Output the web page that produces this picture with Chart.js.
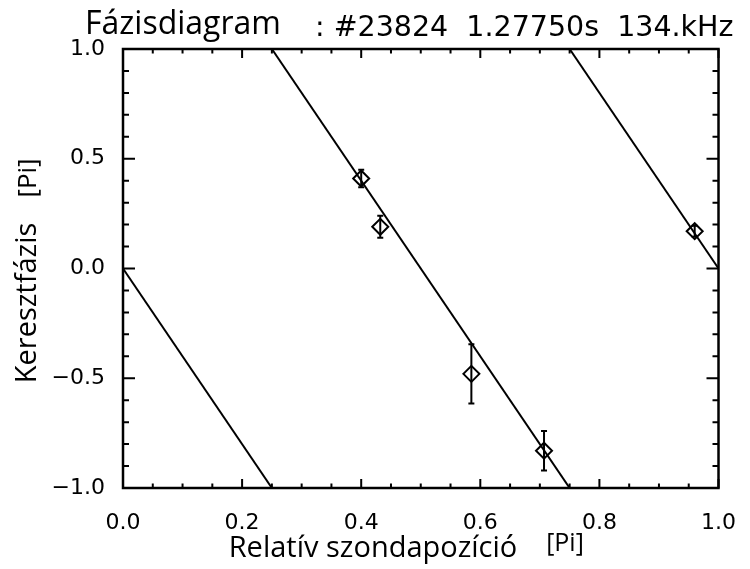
<!DOCTYPE html>
<html>
<head>
<meta charset="utf-8">
<script src="https://cdn.jsdelivr.net/npm/chart.js@4"></script>
<style>
  html, body { margin: 0; padding: 0; background: #fff; }
  #wrap { width: 750px; height: 569px; }
</style>
</head>
<body>
<div id="wrap"><canvas id="phaseChart" width="750" height="569"></canvas></div>
<script>
// measured points: relative probe position [Pi] vs cross phase [Pi]
const probePos = [0.400, 0.432, 0.585, 0.707, 0.960];
const crossPhase = [0.41, 0.19, -0.48, -0.83, 0.17];
const phaseErr = [0.04, 0.05, 0.135, 0.09, 0.025];

// fitted phase line, wrapped into [-1, 1]
const fitX = [[0.0, 0.25], [0.25, 0.75], [0.75, 1.0]];
const fitY = [[0.0, -1.0], [1.0, -1.0], [1.0, 0.0]];

const xTicks = [0.0, 0.2, 0.4, 0.6, 0.8, 1.0];
const xTickLabels = ["0.0", "0.2", "0.4", "0.6", "0.8", "1.0"];
const yTicks = [-1.0, -0.5, 0.0, 0.5, 1.0];
const yTickLabels = ["\u22121.0", "\u22120.5", "0.0", "0.5", "1.0"];
const xMinorStep = 0.05;
const yMinorStep = 0.1;

const titleMain = "Fázisdiagram";
const titleInfo = ": #23824  1.27750s  134.kHz";
const xTitle = "Relatív szondapozíció";
const yTitle = "Keresztfázis";
const unitLabel = "[Pi]";

const fitSets = fitX.map((xs, i) => ({
  type: "line",
  data: xs.map((x, j) => ({ x: x, y: fitY[i][j] })),
  borderColor: "#000",
  borderWidth: 2,
  pointRadius: 0,
  fill: false
}));

const pointSet = {
  type: "scatter",
  data: probePos.map((x, i) => ({ x: x, y: crossPhase[i] })),
  pointStyle: "rectRot",
  pointRadius: 8,
  borderColor: "#000",
  borderWidth: 2,
  backgroundColor: "rgba(0,0,0,0)"
};

// error bars, axis frame with inward ticks, and all text around the plot
const decorations = {
  id: "decorations",
  afterDatasetsDraw(chart) {
    const ctx = chart.ctx;
    const xs = chart.scales.x;
    const ys = chart.scales.y;
    ctx.save();
    ctx.strokeStyle = "#000";
    ctx.lineWidth = 2;
    probePos.forEach((x, i) => {
      const px = xs.getPixelForValue(x);
      const top = ys.getPixelForValue(crossPhase[i] + phaseErr[i]);
      const bot = ys.getPixelForValue(crossPhase[i] - phaseErr[i]);
      ctx.beginPath();
      ctx.moveTo(px, top); ctx.lineTo(px, bot);
      ctx.moveTo(px - 3, top); ctx.lineTo(px + 3, top);
      ctx.moveTo(px - 3, bot); ctx.lineTo(px + 3, bot);
      ctx.stroke();
    });
    ctx.restore();
  },
  afterDraw(chart) {
    const ctx = chart.ctx;
    const a = chart.chartArea;
    const xs = chart.scales.x;
    const ys = chart.scales.y;
    ctx.save();
    ctx.strokeStyle = "#000";
    ctx.lineWidth = 2.5;
    ctx.strokeRect(a.left, a.top, a.right - a.left, a.bottom - a.top);

    ctx.lineWidth = 2;
    ctx.beginPath();
    for (let k = 0; k <= Math.round((xs.max - xs.min) / xMinorStep); k++) {
      const v = xs.min + k * xMinorStep;
      const major = xTicks.some(t => Math.abs(t - v) < 1e-6);
      const len = major ? 9 : 4.5;
      const px = xs.getPixelForValue(v);
      ctx.moveTo(px, a.bottom); ctx.lineTo(px, a.bottom - len);
      ctx.moveTo(px, a.top); ctx.lineTo(px, a.top + len);
    }
    for (let k = 0; k <= Math.round((ys.max - ys.min) / yMinorStep); k++) {
      const v = ys.min + k * yMinorStep;
      const major = yTicks.some(t => Math.abs(t - v) < 1e-6);
      const len = major ? 12 : 6;
      const py = ys.getPixelForValue(v);
      ctx.moveTo(a.left, py); ctx.lineTo(a.left + len, py);
      ctx.moveTo(a.right, py); ctx.lineTo(a.right - len, py);
    }
    ctx.stroke();

    ctx.fillStyle = "#000";
    ctx.textBaseline = "alphabetic";
    ctx.textAlign = "left";
    ctx.font = '32px "Open Sans"';
    ctx.fillText(titleMain, 85, 34);
    ctx.font = '28.5px "DejaVu Sans"';
    ctx.fillText(titleInfo, 315, 36);

    ctx.font = '29px "Open Sans"';
    ctx.textAlign = "center";
    ctx.fillText(xTitle, 373, 557);
    ctx.font = '25px "Open Sans"';
    ctx.fillText(unitLabel, 565, 551);

    ctx.translate(36, 0);
    ctx.rotate(-Math.PI / 2);
    ctx.font = '29px "Open Sans"';
    ctx.fillText(yTitle, -303, 0);
    ctx.font = '26px "Open Sans"';
    ctx.fillText(unitLabel, -178, 0);
    ctx.restore();
  }
};

const ctx = document.getElementById("phaseChart").getContext("2d");

const phaseChart = new Chart(ctx, {
  data: { datasets: [...fitSets, pointSet] },
  options: {
    responsive: false,
    animation: false,
    devicePixelRatio: 1,
    layout: { padding: { top: 49, right: 28, left: 0, bottom: 0 } },
    plugins: {
      legend: { display: false },
      tooltip: { enabled: false }
    },
    scales: {
      x: {
        type: "linear",
        min: 0, max: 1,
        grid: { display: false },
        border: { display: false },
        afterFit: s => { s.height = 81; },
        afterBuildTicks: s => { s.ticks = xTicks.map(v => ({ value: v })); },
        ticks: {
          padding: 14,
          color: "#000",
          font: { family: "DejaVu Sans", size: 22 },
          callback: (v) => xTickLabels[xTicks.findIndex(t => Math.abs(t - v) < 1e-6)]
        }
      },
      y: {
        type: "linear",
        min: -1, max: 1,
        grid: { display: false },
        border: { display: false },
        afterFit: s => { s.width = 123; },
        afterBuildTicks: s => { s.ticks = yTicks.map(v => ({ value: v })); },
        ticks: {
          padding: 10,
          color: "#000",
          font: { family: "DejaVu Sans", size: 22 },
          callback: (v) => yTickLabels[yTicks.findIndex(t => Math.abs(t - v) < 1e-6)]
        }
      }
    }
  },
  plugins: [decorations]
});
</script>
</body>
</html>
